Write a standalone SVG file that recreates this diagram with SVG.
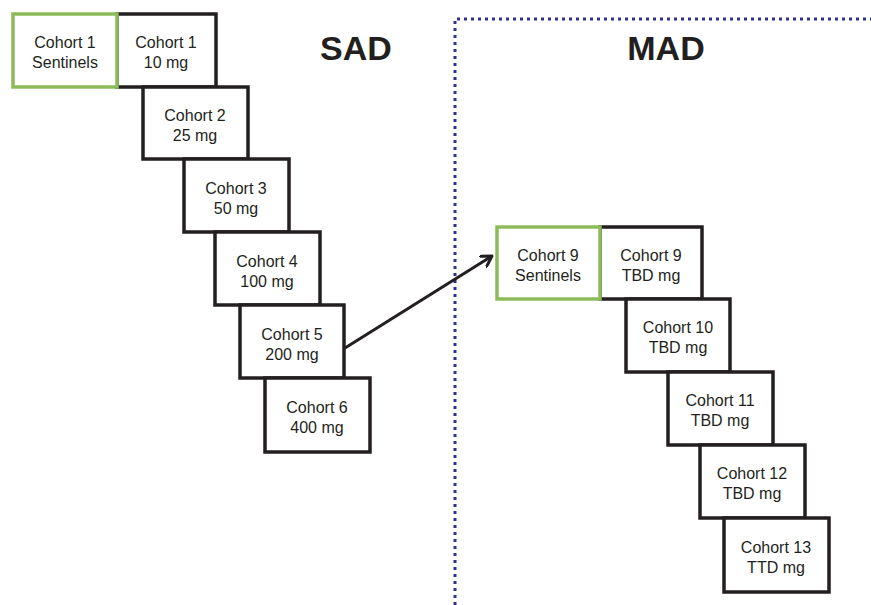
<svg xmlns="http://www.w3.org/2000/svg" width="871" height="605" viewBox="0 0 871 605">
<style>
.box{fill:#fff;stroke:#231f20;stroke-width:3.5}
.sent{fill:#fff;stroke:#8dbb5a;stroke-width:3.5}
.t{font-family:"Liberation Sans",Arial,sans-serif;font-size:16px;fill:#231f20;text-anchor:middle}
.h{font-family:"Liberation Sans",Arial,sans-serif;font-size:34px;font-weight:bold;fill:#231f20;text-anchor:middle}
.div{fill:none;stroke:#2e3192;stroke-width:3;stroke-dasharray:3 4}
</style>
<defs>
<marker id="ah" markerWidth="14" markerHeight="14" refX="11" refY="7" orient="auto" markerUnits="userSpaceOnUse" viewBox="0 0 14 14">
<path d="M1,1 L11,7 L1,13" fill="none" stroke="#231f20" stroke-width="3" stroke-linecap="round" stroke-linejoin="round"/>
</marker>
</defs>
<rect width="871" height="605" fill="#fff"/>
<g id="divider">
<path class="div" d="M455,605 L455,19 L871,19"/>
</g>
<text class="h" x="356" y="60">SAD</text>
<text class="h" x="666" y="60">MAD</text>
<g id="c1"><rect class="box" x="117" y="14" width="99" height="73"/><text class="t" x="166" y="48">Cohort 1</text><text class="t" x="166" y="68">10 mg</text></g>
<g id="c1s"><rect class="sent" x="13" y="14" width="104" height="73"/><text class="t" x="65" y="48">Cohort 1</text><text class="t" x="65" y="68">Sentinels</text></g>
<g id="c2"><rect class="box" x="143" y="87" width="105" height="72"/><text class="t" x="195" y="121">Cohort 2</text><text class="t" x="195" y="141">25 mg</text></g>
<g id="c3"><rect class="box" x="184" y="159" width="105" height="73"/><text class="t" x="236" y="194">Cohort 3</text><text class="t" x="236" y="214">50 mg</text></g>
<g id="c4"><rect class="box" x="215" y="232" width="105" height="73"/><text class="t" x="267" y="267">Cohort 4</text><text class="t" x="267" y="287">100 mg</text></g>
<g id="c5"><rect class="box" x="240" y="305" width="104" height="73"/><text class="t" x="292" y="340">Cohort 5</text><text class="t" x="292" y="360">200 mg</text></g>
<g id="c6"><rect class="box" x="265" y="378" width="105" height="74"/><text class="t" x="317" y="413">Cohort 6</text><text class="t" x="317" y="433">400 mg</text></g>
<g id="c9"><rect class="box" x="600" y="227" width="102" height="72"/><text class="t" x="651" y="261">Cohort 9</text><text class="t" x="651" y="281">TBD mg</text></g>
<g id="c9s"><rect class="sent" x="497" y="227" width="103" height="72"/><text class="t" x="548" y="261">Cohort 9</text><text class="t" x="548" y="281">Sentinels</text></g>
<g id="c10"><rect class="box" x="626" y="299" width="104" height="73"/><text class="t" x="678" y="333">Cohort 10</text><text class="t" x="678" y="353">TBD mg</text></g>
<g id="c11"><rect class="box" x="668" y="372" width="105" height="73"/><text class="t" x="720" y="406">Cohort 11</text><text class="t" x="720" y="426">TBD mg</text></g>
<g id="c12"><rect class="box" x="700" y="445" width="105" height="73"/><text class="t" x="752" y="479">Cohort 12</text><text class="t" x="752" y="499">TBD mg</text></g>
<g id="c13"><rect class="box" x="724" y="518" width="105" height="74"/><text class="t" x="776" y="553">Cohort 13</text><text class="t" x="776" y="573">TTD mg</text></g>
<g id="connectors">
<line x1="345" y1="348" x2="492" y2="256" stroke="#231f20" stroke-width="3" marker-end="url(#ah)"/>
</g>
</svg>
